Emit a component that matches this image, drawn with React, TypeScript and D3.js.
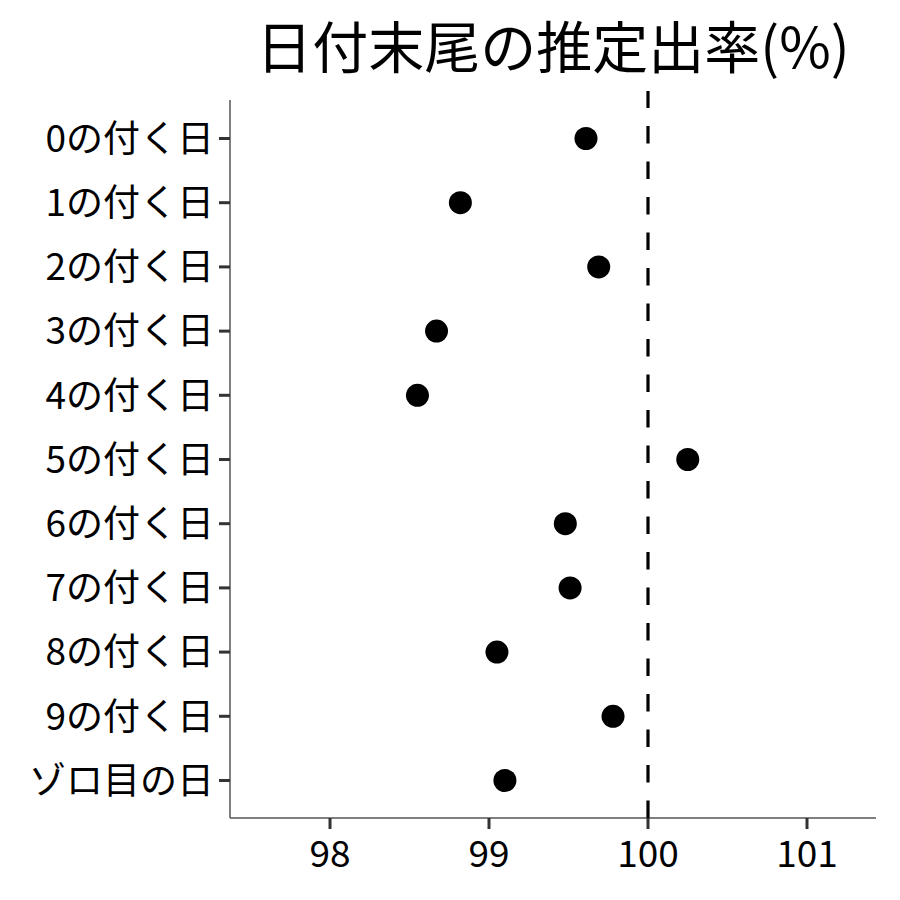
import React from "react";
import * as d3 from "d3";

const categories = ["0の付く日","1の付く日","2の付く日","3の付く日","4の付く日","5の付く日","6の付く日","7の付く日","8の付く日","9の付く日","ゾロ目の日"];
const rates = [99.61, 98.82, 99.69, 98.67, 98.55, 100.25, 99.48, 99.51, 99.05, 99.78, 99.10];
const xTicks = [98, 99, 100, 101];
const refValue = 100;
const title = "日付末尾の推定出率(%)";

export default function App() {
  const W = 900, H = 900;
  const left = 230, right = 876, top = 100, bottom = 818;
  const x = d3.scaleLinear().domain([97.371, 101.434]).range([left, right]);
  const y = d3.scalePoint<string>().domain(categories).range([138.5, 780.5]);
  const font = "'Noto Sans CJK JP', 'Noto Sans', sans-serif";
  return (
    <svg width={W} height={H} style={{ position: "absolute", left: 0, top: 0, background: "#fff" }}>
      <text x={(left + right) / 2} y={68} textAnchor="middle" fontSize={56} fontFamily={font} fill="#000">{title}</text>
      <line x1={left} x2={left} y1={top} y2={bottom} stroke="#555" strokeWidth={1.5} />
      <line x1={left} x2={right} y1={bottom} y2={bottom} stroke="#555" strokeWidth={1.5} />
      {categories.map((c) => (
        <g key={c}>
          <line x1={left - 11} x2={left} y1={y(c)} y2={y(c)} stroke="#333" strokeWidth={3} />
          <text x={left - 16} y={y(c)} dy="0.36em" textAnchor="end" fontSize={37} fontFamily={font} fill="#000">{c}</text>
        </g>
      ))}
      {xTicks.map((t) => (
        <g key={t}>
          <line x1={x(t)} x2={x(t)} y1={bottom} y2={bottom + 11} stroke="#333" strokeWidth={3} />
          <text x={x(t)} y={867} textAnchor="middle" fontSize={37} fontFamily={font} fill="#000">{t}</text>
        </g>
      ))}
      <line x1={x(refValue)} x2={x(refValue)} y1={bottom} y2={top - 9} stroke="#000" strokeWidth={3.2} strokeDasharray="17.5 18" />
      {categories.map((c, i) => (
        <circle key={c} cx={x(rates[i])} cy={y(c)} r={11.5} fill="#000" />
      ))}
    </svg>
  );
}
